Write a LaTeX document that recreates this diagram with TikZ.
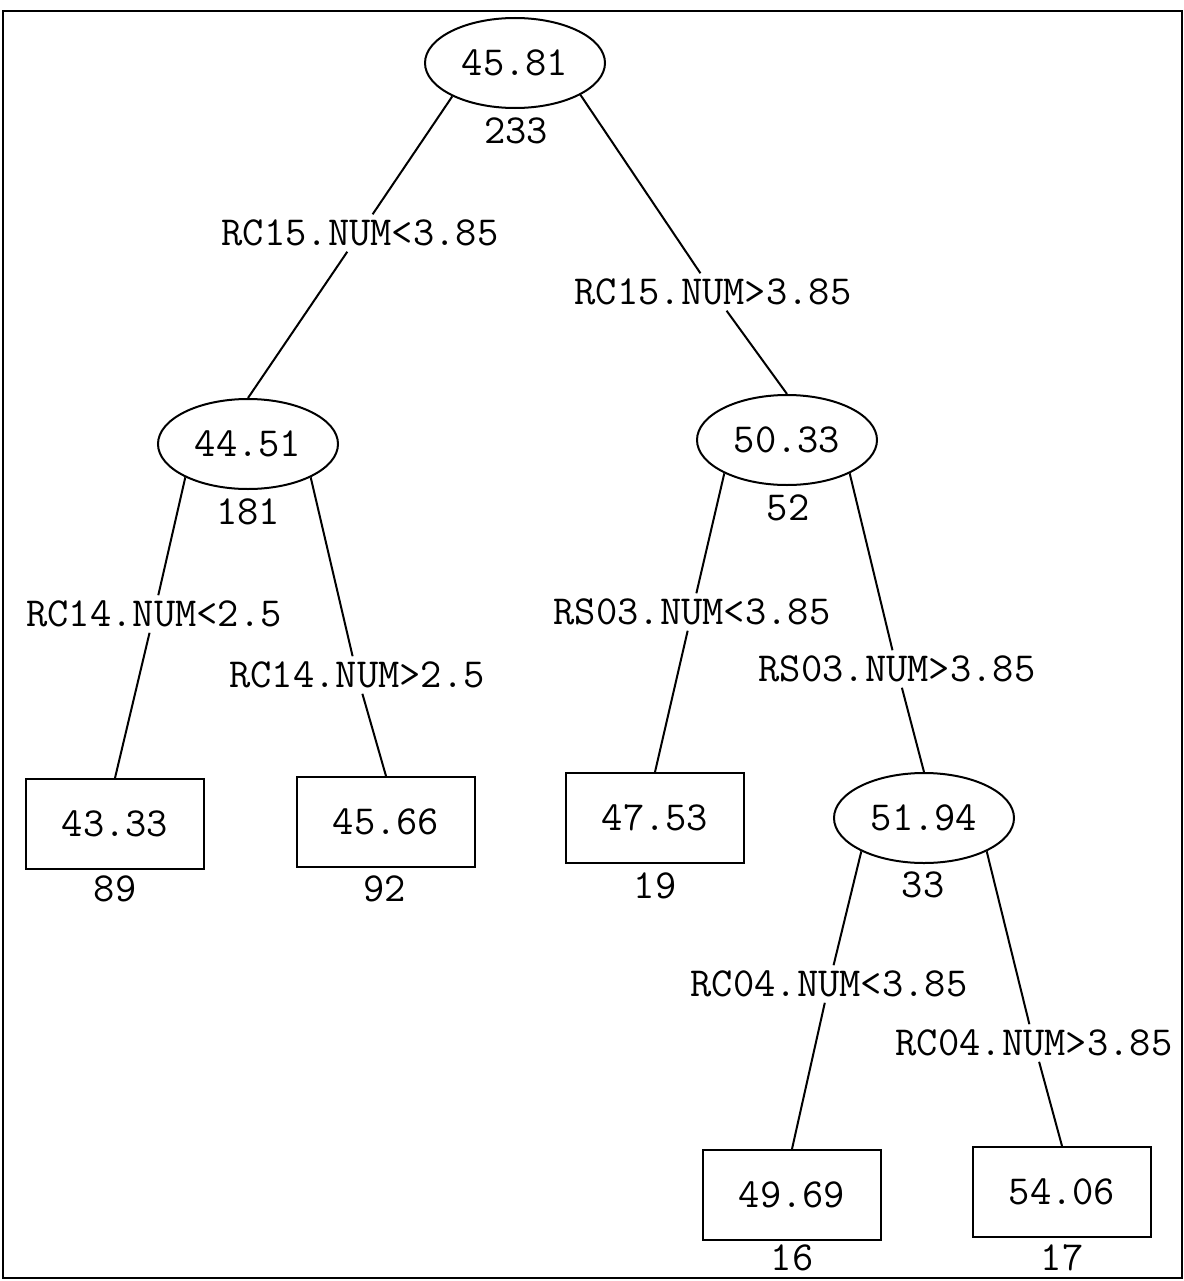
\documentclass[tikz,border=0pt]{standalone}
\usepackage{fontspec}
\usetikzlibrary{shapes.geometric}

\tikzset{
  split/.style={draw, ellipse, line width=1.5pt, minimum width=135pt, minimum height=67.5pt, inner sep=0pt},
  leaf/.style={draw, rectangle, line width=1.5pt, minimum width=134pt, minimum height=67.5pt, inner sep=0pt},
  cond/.style={inner sep=4pt},
  count/.style={inner sep=0.75pt},
  branch/.style={line width=1.5pt}
}

\begin{document}
\begin{tikzpicture}[x=0.75pt,y=0.75pt,yscale=-1,xscale=1,font=\ttfamily\fontsize{31pt}{36pt}\selectfont]
\useasboundingbox (0,0) rectangle (1184,1281);

%Shape: Rectangle (frame)
\draw [line width=1.5pt] (3,11) rectangle (1182,1278);

%Shape: Ellipse
\node [split] (n4581) at (515,63) {45.81};
\node [split] (n4451) at (248,444) {44.51};
\node [split] (n5033) at (787,440) {50.33};
\node [split] (n5194) at (924,818) {51.94};
%Shape: Rectangle
\node [leaf] (n4333) at (115,824) {43.33};
\node [leaf] (n4566) at (386,822) {45.66};
\node [leaf] (n4753) at (655,818) {47.53};
\node [leaf] (n4969) at (792,1195) {49.69};
\node [leaf] (n5406) at (1062,1192) {54.06};

% Text Node
\node [count] (k233) at (516,131) {233};
\node [count] (k181) at (248,512) {181};
\node [count] (k52) at (788,508) {52};
\node [count] (k33) at (923,885) {33};
\node [count] (k89) at (115,889) {89};
\node [count] (k92) at (385,889) {92};
\node [count] (k19) at (655,886) {19};
\node [count] (k16) at (792,1258) {16};
\node [count] (k17) at (1062,1258) {17};

% Text Node
\node [cond] (c1) at (360,233) {RC15.NUM<3.85};
\node [cond] (c2) at (713,292) {RC15.NUM>3.85};
\node [cond] (c3) at (154,614) {RC14.NUM<2.5};
\node [cond] (c4) at (357,675) {RC14.NUM>2.5};
\node [cond] (c5) at (692,612) {RS03.NUM<3.85};
\node [cond] (c6) at (897,669) {RS03.NUM>3.85};
\node [cond] (c7) at (829,984) {RC04.NUM<3.85};
\node [cond] (c8) at (1034,1043) {RC04.NUM>3.85};

%Straight Lines
\draw [branch] (n4581.208) -- (c1) -- (n4451.north);
\draw [branch] (n4581.334) -- (c2) -- (n5033.north);
\draw [branch] (n4451.208) -- (c3) -- (n4333.north);
\draw [branch] (n4451.332) -- (c4) -- (n4566.north);
\draw [branch] (n5033.208) -- (c5) -- (n4753.north);
\draw [branch] (n5033.332) -- (c6) -- (n5194.north);
\draw [branch] (n5194.208) -- (c7) -- (n4969.north);
\draw [branch] (n5194.332) -- (c8) -- (n5406.north);

\end{tikzpicture}
\end{document}
